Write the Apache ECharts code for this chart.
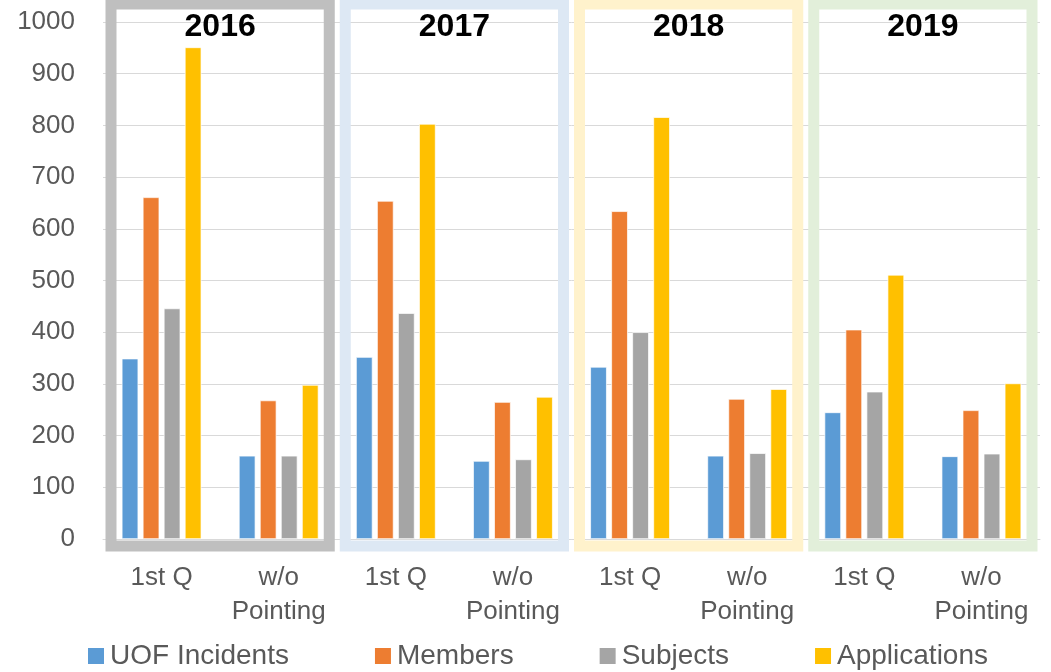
<!DOCTYPE html>
<html>
<head>
<meta charset="utf-8">
<script src="https://cdn.jsdelivr.net/npm/echarts@6/dist/echarts.min.js"></script>
<style>
html,body{margin:0;padding:0;background:#fff;}
#chart{width:1051px;height:672px;}
</style>
</head>
<body>
<div id="chart"></div>
<script>
// ---- data ----
const categories = ['1st Q', 'w/o\nPointing', '1st Q', 'w/o\nPointing', '1st Q', 'w/o\nPointing', '1st Q', 'w/o\nPointing'];
const uofIncidents = [349, 161, 352, 151, 333, 161, 245, 160];
const members = [661, 268, 654, 265, 634, 271, 405, 249];
const subjects = [446, 161, 437, 154, 400, 166, 285, 165];
const applications = [951, 298, 803, 275, 816, 290, 511, 301];
const years = ['2016', '2017', '2018', '2019'];
const yearSpans = [[0, 1], [2, 3], [4, 5], [6, 7]];
const seriesNames = ['UOF Incidents', 'Members', 'Subjects', 'Applications'];
const yMin = 0, yMax = 1000, yInterval = 100;

// ---- styles ----
const seriesColors = ['#5b9bd5', '#ed7d31', '#a5a5a5', '#ffc000'];
const boxColors = ['#bfbfbf', '#dde8f4', '#fff2cc', '#e2efda'];
const font = '"Liberation Sans", Arial, sans-serif';

const chart = echarts.init(document.getElementById('chart'), null, {renderer: 'canvas'});

const barSeries = [uofIncidents, members, subjects, applications].map((vals, i) => ({
  name: seriesNames[i],
  type: 'bar',
  data: vals,
  barGap: '27%',
  barCategoryGap: '32%',
  itemStyle: {color: seriesColors[i], borderColor: '#ffffff', borderWidth: 0.7},
  z: 3
}));

const boxSeries = {
  type: 'custom',
  name: 'years',
  clip: false,
  silent: true,
  z: 4,
  data: yearSpans.map((s, i) => [s[0], s[1], i]),
  encode: {x: [0, 1]},
  renderItem: function (params, api) {
    const idx = api.value(2);
    const bw = api.size([1, 0])[0];
    const p0 = api.coord([api.value(0), yMin]);
    const p1 = api.coord([api.value(1), yMin]);
    const pTop = api.coord([api.value(0), yMax]);
    const lw = 11;
    const x0 = p0[0] - bw / 2 + 8;
    const x1 = p1[0] + bw / 2 - 8;
    const yT = pTop[1] - 18;
    const yB = p0[1] + 7;
    return {
      type: 'group',
      children: [
        {
          type: 'rect',
          shape: {x: x0, y: yT, width: x1 - x0, height: yB - yT},
          style: {fill: null, stroke: boxColors[idx], lineWidth: lw}
        },
        {
          type: 'text',
          x: (x0 + x1) / 2,
          y: pTop[1] + 5,
          style: {
            text: years[idx],
            fill: '#000000',
            font: 'bold 32px ' + font,
            align: 'center',
            verticalAlign: 'middle'
          }
        }
      ]
    };
  }
};

chart.setOption({
  animation: false,
  backgroundColor: '#ffffff',
  grid: {left: 103, right: 11, top: 22, bottom: 133, containLabel: false},
  legend: {
    data: seriesNames,
    left: 81,
    top: 637,
    itemWidth: 18,
    itemHeight: 18,
    itemGap: 84,
    icon: 'rect',
    textStyle: {fontFamily: font, fontSize: 28, color: '#595959'}
  },
  xAxis: {
    type: 'category',
    data: categories,
    axisLine: {show: true, lineStyle: {color: '#d9d9d9', width: 1}},
    axisTick: {show: false},
    axisLabel: {
      interval: 0,
      fontFamily: font,
      fontSize: 26,
      lineHeight: 34,
      color: '#595959',
      margin: 22
    }
  },
  yAxis: {
    type: 'value',
    min: yMin,
    max: yMax,
    interval: yInterval,
    axisLine: {show: false},
    axisTick: {show: false},
    splitLine: {lineStyle: {color: '#d9d9d9', width: 1}},
    axisLabel: {
      fontFamily: font, fontSize: 26, color: '#595959', margin: 28,
      formatter: function (v) { return String(v); }
    }
  },
  series: barSeries.concat([boxSeries])
});
</script>
</body>
</html>
